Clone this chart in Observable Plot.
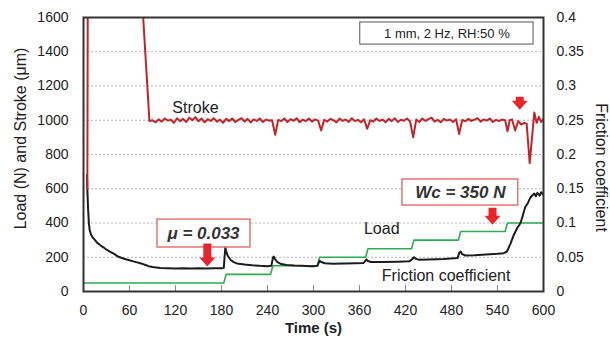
<!DOCTYPE html>
<html><head><meta charset="utf-8">
<script src="https://cdn.jsdelivr.net/npm/d3@7"></script>
<script src="https://cdn.jsdelivr.net/npm/@observablehq/plot@0.6"></script>
<style>
html,body{margin:0;padding:0;background:#fff;}
#chart svg{display:block;font-family:Arial,"Liberation Sans",sans-serif;}
</style></head><body><div id="chart"></div>
<script>
// ---- tick labels ----
const xTicks = [0, 60, 120, 180, 240, 300, 360, 420, 480, 540, 600];
const yTicks = [0, 200, 400, 600, 800, 1000, 1200, 1400, 1600];
const fricTickLabels = ["0", "0.05", "0.1", "0.15", "0.2", "0.25", "0.3", "0.35", "0.4"];
const FRIC_SCALE = 4000; // 0.4 on right axis == 1600 on left axis

// ---- Load (N), green steps ----
const loadTime = [0, 183, 186, 244, 247, 305, 308, 368, 371, 428, 431, 489, 492, 550, 553, 600];
const loadN    = [50, 50, 100, 100, 150, 150, 200, 200, 250, 250, 300, 300, 350, 350, 400, 400];

// ---- Friction coefficient, black ----
const fricTime = [4.6, 5, 6, 7, 8, 10, 12, 15, 18, 22, 26, 30, 35, 40, 45, 50, 55, 60, 65, 70, 75, 80, 85, 90, 95, 100, 110, 120, 130, 140, 150, 160, 170, 180,
  183, 184, 185, 186, 188, 192, 196, 200, 210, 220, 230, 240, 245, 247, 248, 250, 253, 258, 265, 275, 285, 295, 300, 305,
  307, 308, 310, 315, 325, 340, 355, 365, 368, 369, 371, 375, 390, 410, 425, 429, 431, 433, 437, 450, 470, 488,
  490, 492, 494, 498, 510, 525, 540, 548, 552, 554, 557, 561, 565, 570, 573, 576, 580, 583, 586, 588, 590, 592, 595, 597, 600];
const fricMu = [0.17, 0.15, 0.12, 0.1, 0.09, 0.0825, 0.079, 0.075, 0.071, 0.0675, 0.0645, 0.061, 0.058, 0.055, 0.051, 0.049, 0.047, 0.0455, 0.044, 0.0425, 0.041, 0.039, 0.037, 0.0358, 0.035, 0.0342, 0.0338, 0.0335, 0.034, 0.0335, 0.0338, 0.0335, 0.034, 0.0338,
  0.0345, 0.05, 0.0645, 0.059, 0.0525, 0.046, 0.043, 0.041, 0.0395, 0.0383, 0.0375, 0.037, 0.0375, 0.0488, 0.051, 0.047, 0.043, 0.04, 0.0388, 0.038, 0.0375, 0.037, 0.0368, 0.0375,
  0.0425, 0.045, 0.043, 0.0412, 0.0405, 0.0408, 0.0412, 0.0415, 0.045, 0.0468, 0.0445, 0.043, 0.043, 0.0435, 0.044, 0.0475, 0.05, 0.048, 0.0465, 0.0468, 0.0475, 0.0488,
  0.0563, 0.0583, 0.0545, 0.0525, 0.053, 0.054, 0.055, 0.056, 0.058, 0.0625, 0.07, 0.0818, 0.0913, 0.1, 0.111, 0.1225, 0.13, 0.1375, 0.141, 0.143, 0.139, 0.144, 0.14, 0.145, 0.141];

// ---- Stroke (µm), red ----
const strokeTime = [5, 5.6, 76.5, 86, 90, 94, 98, 102, 106, 110, 114, 118, 122, 126, 130, 134, 138, 142, 146, 150, 154, 158, 162, 166, 170, 174, 178, 182,
  186, 190, 194, 198, 202, 206, 210, 214, 218, 222, 226, 230, 234, 238, 242, 246, 250, 254, 258, 262, 266, 270, 274, 278, 282, 286, 290, 294, 298,
  302, 306, 310, 314, 318, 322, 326, 330, 334, 338, 342, 346, 350, 354, 358, 362, 366, 370, 374, 378, 382, 386, 390, 394, 398, 402, 406, 410, 414,
  418, 422, 426, 430, 434, 438, 442, 446, 450, 454, 458, 462, 466, 470, 474, 478, 482, 486, 490, 494, 498, 502, 506, 510, 514, 518, 522, 526, 530,
  534, 538, 542, 546, 550, 553, 556, 559, 563, 567, 571, 575, 578, 582, 588, 591, 594, 597, 600];
const strokeUm = [600, 1800, 1700, 995, 1000, 988, 1005, 992, 1010, 998, 1003, 985, 1012, 995, 1008, 990, 1015, 1000, 1018, 994, 1010, 988, 1006, 996, 1012, 992, 1004, 985,
  1008, 995, 1010, 990, 1002, 1012, 993, 1008, 987, 1005, 996, 1010, 990, 1004, 998, 1000, 915, 1002, 995, 1010, 990, 1006, 997, 1012, 988, 1004, 995, 1010, 992,
  1005, 998, 940, 1003, 992, 1008, 1000, 988, 1010, 996, 1005, 990, 1012, 995, 1002, 988, 1006, 950, 1000, 992, 1010, 996, 1004, 988, 1008, 995, 1012, 990, 1003,
  997, 1010, 993, 900, 1004, 990, 1010, 996, 1006, 1015, 992, 1002, 988, 1008, 998, 1004, 990, 1006, 920, 1002, 994, 1008, 996, 1004, 1012, 992, 1005, 998, 1010,
  990, 1002, 996, 1004, 1000, 935, 1000, 1005, 940, 995, 975, 985, 980, 750, 1045, 985, 1020, 990, 1010];

// ---- annotations ----
const notes = ["Stroke", "Load", "Friction coefficient"];
const noteTime = [146, 389, 473];
const noteVal = [1074, 368, 93];
const boxTexts = ["μ = 0.033", "Wc = 350 N"];
const boxX1 = [96.5, 416], boxX2 = [217.8, 567], boxY1 = [257, 502], boxY2 = [420, 654];
const boxTextTime = [156.5, 491.5], boxTextVal = [339, 578];
const condText = "1 mm, 2 Hz, RH:50 %";
const condBox = {x1: 361, x2: 587, y1: 1442, y2: 1571, tx: 474, ty: 1507};
const arrowTime = [161.5, 533.5, 569];
const arrowVal = [213, 440, 1100];
const arrowLen = [23, 17, 13];

const loadData = loadTime.map((t, i) => ({t, v: loadN[i]}));
const fricData = fricTime.map((t, i) => ({t, v: fricMu[i] * FRIC_SCALE}));
const strokeData = strokeTime.map((t, i) => ({t, v: strokeUm[i]}));

function blockArrow(L) {
  return {draw(ctx) {
    const hw = 8, sw = 4, hl = 9, top = -L / 2, tip = L / 2;
    ctx.moveTo(-sw, top); ctx.lineTo(-sw, tip - hl); ctx.lineTo(-hw, tip - hl);
    ctx.lineTo(0, tip); ctx.lineTo(hw, tip - hl); ctx.lineTo(sw, tip - hl);
    ctx.lineTo(sw, top); ctx.closePath();
  }};
}

const txt = "#222";
const chart = Plot.plot({
  width: 610, height: 341,
  marginLeft: 83, marginRight: 67, marginTop: 17, marginBottom: 50,
  style: {fontFamily: "Arial, 'Liberation Sans', sans-serif", color: txt, background: "#fff"},
  x: {domain: [0, 600]},
  y: {domain: [0, 1600]},
  marks: [
    Plot.ruleY(yTicks.slice(1, -1), {stroke: "#b5b5b5", strokeDasharray: "2,2", strokeWidth: 1}),
    Plot.ruleX(xTicks.slice(1, -1), {y1: 0, y2: 35, stroke: "#888", strokeWidth: 1}),
    Plot.line(loadData, {x: "t", y: "v", stroke: "#2faa55", strokeWidth: 1.6, clip: true}),
    Plot.line(fricData, {x: "t", y: "v", stroke: "#1c1c1c", strokeWidth: 2, clip: true}),
    Plot.line(strokeData, {x: "t", y: "v", stroke: "#c0252b", strokeWidth: 2, clip: true}),
    Plot.rect([condBox], {x1: "x1", x2: "x2", y1: "y1", y2: "y2", fill: "#fff", stroke: "#555", strokeWidth: 1}),
    Plot.text([condBox], {x: "tx", y: "ty", text: () => condText, fontSize: 13, fill: txt}),
    Plot.rect(boxTexts, {x1: (d, i) => boxX1[i], x2: (d, i) => boxX2[i], y1: (d, i) => boxY1[i], y2: (d, i) => boxY2[i], fill: "#fff", stroke: "#e57373", strokeWidth: 1.5}),
    Plot.text(boxTexts, {x: (d, i) => boxTextTime[i], y: (d, i) => boxTextVal[i], text: d => d, fontSize: 17, fontWeight: "bold", fontStyle: "italic", fill: "#333"}),
    Plot.text(notes, {x: (d, i) => noteTime[i], y: (d, i) => noteVal[i], text: d => d, fontSize: 16, fill: txt}),
    ...arrowTime.map((t, i) => Plot.dot([t], {x: d => d, y: () => arrowVal[i], r: 5, symbol: blockArrow(arrowLen[i]), fill: "#e8262a", stroke: "none"})),
    Plot.frame({stroke: "#333", strokeWidth: 2}),
    Plot.axisX(xTicks, {tickSize: 0, tickPadding: 14, fontSize: 14, label: null, fill: txt, tickFormat: d => String(d)}),
    Plot.axisY(yTicks, {anchor: "left", tickSize: 0, tickPadding: 15, fontSize: 14, label: null, fill: txt, tickFormat: d => String(d)}),
    Plot.axisY(yTicks, {anchor: "right", tickSize: 0, tickPadding: 13, fontSize: 14, label: null, fill: txt,
      tickFormat: d => fricTickLabels[yTicks.indexOf(d)]}),
    Plot.text(["Time (s)"], {frameAnchor: "bottom", dy: 41, text: d => d, fontSize: 15, fontWeight: "bold", fill: txt}),
    Plot.text(["Load (N) and Stroke (μm)"], {frameAnchor: "left", textAnchor: "middle", dx: -63, dy: -16, rotate: -90, text: d => d, fontSize: 16, fill: txt}),
    Plot.text(["Friction coefficient"], {frameAnchor: "right", textAnchor: "middle", dx: 58, dy: 13, rotate: 90, text: d => d, fontSize: 16, fill: txt})
  ]
});
document.getElementById("chart").appendChild(chart);
</script></body></html>
